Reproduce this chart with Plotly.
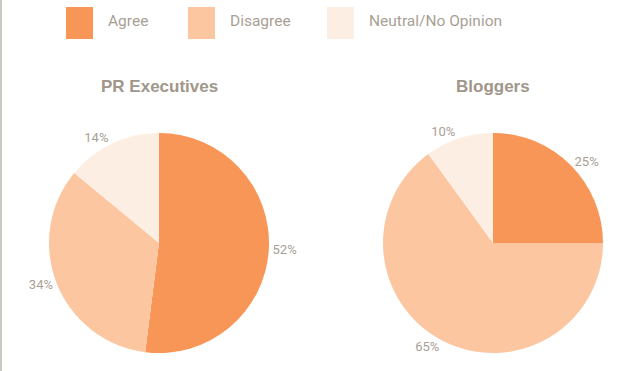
import plotly.graph_objects as go

categories = ["Agree", "Disagree", "Neutral/No Opinion"]
pr_values = [52, 34, 14]
blogger_values = [25, 65, 10]
titles = ["PR Executives", "Bloggers"]
colors = ["#f79656", "#fbc6a0", "#fdeee3"]

W, H = 621, 371
FONT = "Roboto, Liberation Sans, sans-serif"
TXT = "#a89f95"

def px_x(x):
    return x / W

def px_y(y):
    return 1 - y / H

R = 110
centers = [(159, 243), (493, 243)]

fig = go.Figure()
for vals, (cx, cy), name in zip([pr_values, blogger_values], centers, titles):
    fig.add_trace(go.Pie(
        labels=categories, values=vals, name=name,
        sort=False, direction="clockwise", rotation=0,
        marker=dict(colors=colors, line=dict(width=0)),
        textinfo="percent", textposition="outside",
        texttemplate="%{value}%",
        textfont=dict(family=FONT, size=13, color=TXT),
        domain=dict(x=[px_x(cx - R), px_x(cx + R)], y=[px_y(cy + R), px_y(cy - R)]),
        showlegend=False, hoverinfo="label+value",
    ))

shapes = [dict(type="line", xref="paper", yref="paper", x0=px_x(1), x1=px_x(1), y0=0, y1=1,
               line=dict(color="#cbc7c1", width=2))]
annotations = []
legend_x = [66, 188, 327]
for lx, cat, col in zip(legend_x, categories, colors):
    shapes.append(dict(type="rect", xref="paper", yref="paper",
                       x0=px_x(lx), x1=px_x(lx + 27), y0=px_y(39), y1=px_y(7),
                       fillcolor=col, line=dict(width=0)))
    annotations.append(dict(text=cat, xref="paper", yref="paper", x=px_x(lx + 40), y=px_y(21),
                            xanchor="left", yanchor="middle", showarrow=False,
                            font=dict(family=FONT, size=15.5, color=TXT)))
for t, (cx, cy) in zip(titles, centers):
    annotations.append(dict(text="<b>" + t + "</b>", xref="paper", yref="paper", x=px_x(cx), y=px_y(87),
                            xanchor="center", yanchor="middle", showarrow=False,
                            font=dict(family="Liberation Sans, Arial, sans-serif", size=17, color="#a0968a")))

fig.update_layout(width=W, height=H, margin=dict(l=0, r=0, t=0, b=0),
                  paper_bgcolor="white", plot_bgcolor="white",
                  shapes=shapes, annotations=annotations)
fig.write_html("out.html")
